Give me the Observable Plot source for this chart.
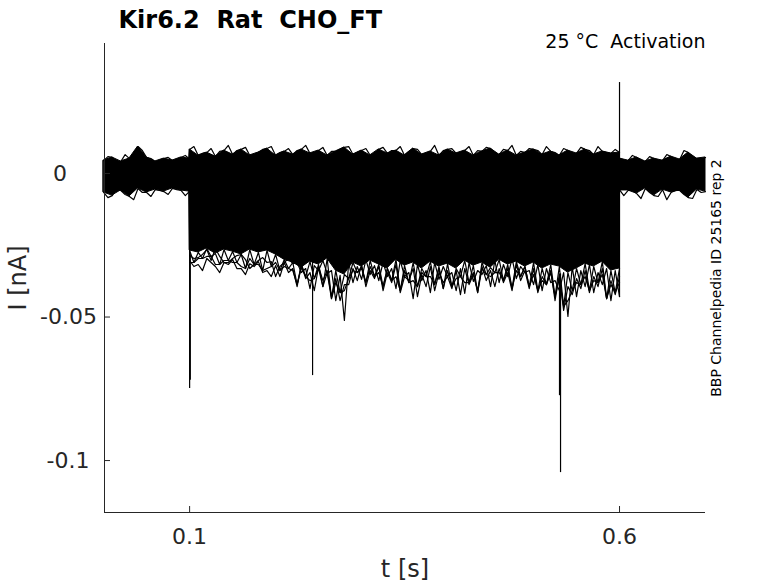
<!DOCTYPE html>
<html><head><meta charset="utf-8">
<script src="https://cdn.jsdelivr.net/npm/d3@7"></script>
<script src="https://cdn.jsdelivr.net/npm/@observablehq/plot@0.6"></script>
<style>html,body{margin:0;padding:0;background:#fff} svg{display:block}</style>
</head><body><div id="chart"></div>
<script>
// ---- axes / labels ----
const titleText = "Kir6.2  Rat  CHO_FT";
const conditionText = "25 °C  Activation";
const sideText = "BBP Channelpedia ID 25165 rep 2";
const xLabel = "t [s]";
const yLabel = "I [nA]";
const xDomain = [0.001, 0.7];
const yDomain = [-0.1181, 0.0453];
const xTicks = [0.1, 0.6];
const xTickLabels = ["0.1", "0.6"];
const yTicks = [0, -0.05, -0.1];
const yTickLabels = ["0", "-0.05", "-0.1"];

// ---- sample times (s) ----
const tPre = [0, 0.01, 0.02, 0.03, 0.04, 0.05, 0.06, 0.07, 0.08, 0.09, 0.0995];
const tPreHalf = [0.005, 0.015, 0.025, 0.035, 0.045, 0.055, 0.065, 0.075, 0.085, 0.095];
const tAct = [0.10,0.11,0.12,0.13,0.14,0.15,0.16,0.17,0.18,0.19,
              0.20,0.21,0.22,0.23,0.24,0.25,0.26,0.27,0.28,0.29,
              0.30,0.31,0.32,0.33,0.34,0.35,0.36,0.37,0.38,0.39,
              0.40,0.41,0.42,0.43,0.44,0.45,0.46,0.47,0.48,0.49,
              0.50,0.51,0.52,0.53,0.54,0.55,0.56,0.57,0.58,0.59,0.60];
const tHalf = [0.105,0.115,0.125,0.135,0.145,0.155,0.165,0.175,0.185,0.195,
               0.205,0.215,0.225,0.235,0.245,0.255,0.265,0.275,0.285,0.295,
               0.305,0.315,0.325,0.335,0.345,0.355,0.365,0.375,0.385,0.395,
               0.405,0.415,0.425,0.435,0.445,0.455,0.465,0.475,0.485,0.495,
               0.505,0.515,0.525,0.535,0.545,0.555,0.565,0.575,0.585,0.595];
const tPost = [0.6005, 0.61, 0.62, 0.63, 0.64, 0.65, 0.66, 0.67, 0.68, 0.69, 0.70];
const tPostHalf = [0.605, 0.615, 0.625, 0.635, 0.645, 0.655, 0.665, 0.675, 0.685, 0.695];

// ---- upper edge of the sweep bundle (nA) ----
const topPre = [0.0045,0.0056,0.0042,0.0052,0.0094,0.0056,0.0042,0.0052,0.0045,0.0056,0.0052];
const topPreHalf = [0.0059,0.0038,0.0066,0.0045,0.0080,0.0052,0.0038,0.0056,0.0045,0.0063];
const topAct = [0.0084,0.0063,0.0073,0.0059,0.0080,0.0066,0.0084,0.0063,0.0073,0.0087,
                0.0063,0.0077,0.0066,0.0084,0.0070,0.0080,0.0063,0.0077,0.0091,0.0066,
                0.0080,0.0063,0.0084,0.0070,0.0080,0.0063,0.0087,0.0066,0.0077,0.0063,
                0.0084,0.0070,0.0080,0.0063,0.0077,0.0087,0.0066,0.0080,0.0063,0.0073,
                0.0084,0.0066,0.0077,0.0063,0.0080,0.0070,0.0084,0.0066,0.0077,0.0070,0.0073];
const topHalf = [0.0094,0.0070,0.0087,0.0077,0.0098,0.0080,0.0091,0.0066,0.0084,0.0094,
                 0.0073,0.0087,0.0080,0.0098,0.0070,0.0091,0.0077,0.0084,0.0094,0.0073,
                 0.0087,0.0066,0.0091,0.0080,0.0094,0.0077,0.0084,0.0070,0.0098,0.0080,
                 0.0087,0.0073,0.0094,0.0080,0.0091,0.0070,0.0084,0.0098,0.0077,0.0087,
                 0.0080,0.0094,0.0073,0.0087,0.0066,0.0091,0.0080,0.0094,0.0073,0.0084];
const topPost = [0.0052,0.0045,0.0056,0.0042,0.0052,0.0045,0.0059,0.0049,0.0073,0.0052,0.0056];
const topPostHalf = [0.0038,0.0063,0.0045,0.0059,0.0038,0.0066,0.0042,0.0080,0.0056,0.0049];

// ---- lower edge of the dense core (nA) ----
const corePre = [-0.0066,-0.0077,-0.0059,-0.0080,-0.0052,-0.0066,-0.0056,-0.0063,-0.0052,-0.0059,-0.0063];
const corePreHalf = [-0.0084,-0.0052,-0.0073,-0.0091,-0.0066,-0.0080,-0.0059,-0.0073,-0.0056,-0.0077];
const coreAct = [-0.0268,-0.0275,-0.0261,-0.0279,-0.0265,-0.0272,-0.0282,-0.0265,-0.0275,-0.0268,
                 -0.0282,-0.0300,-0.0310,-0.0328,-0.0307,-0.0317,-0.0296,-0.0338,-0.0352,-0.0310,
                 -0.0324,-0.0303,-0.0317,-0.0331,-0.0300,-0.0321,-0.0310,-0.0331,-0.0307,-0.0324,
                 -0.0314,-0.0331,-0.0303,-0.0321,-0.0310,-0.0328,-0.0300,-0.0317,-0.0307,-0.0324,
                 -0.0310,-0.0331,-0.0317,-0.0324,-0.0345,-0.0331,-0.0314,-0.0324,-0.0307,-0.0338,-0.0331];
const corePost = [-0.0059,-0.0059,-0.0070,-0.0052,-0.0077,-0.0056,-0.0066,-0.0059,-0.0084,-0.0056,-0.0063];
const corePostHalf = [-0.0077,-0.0059,-0.0087,-0.0066,-0.0080,-0.0091,-0.0059,-0.0073,-0.0087,-0.0066];

// ---- lowest sweeps (nA) ----
const lowEdge = [-0.0286,-0.0293,-0.0265,-0.0261,-0.0310,-0.0296,-0.0282,-0.0331,-0.0303,-0.0310,
                 -0.0359,-0.0310,-0.0314,-0.0345,-0.0401,-0.0338,-0.0348,-0.0443,-0.0512,-0.0380,
                 -0.0369,-0.0352,-0.0373,-0.0359,-0.0401,-0.0359,-0.0436,-0.0373,-0.0415,-0.0369,
                 -0.0359,-0.0408,-0.0418,-0.0376,-0.0352,-0.0394,-0.0380,-0.0359,-0.0366,-0.0345,
                 -0.0387,-0.0408,-0.0380,-0.0408,-0.0498,-0.0429,-0.0394,-0.0415,-0.0387,-0.0443,-0.0429];
const lowMid = [-0.0296,-0.0282,-0.0303,-0.0289,-0.0310,-0.0286,-0.0300,-0.0317,-0.0293,-0.0307,
                -0.0324,-0.0296,-0.0310,-0.0331,-0.0321,-0.0303,-0.0338,-0.0355,-0.0310,-0.0324,
                -0.0300,-0.0321,-0.0310,-0.0331,-0.0303,-0.0345,-0.0317,-0.0338,-0.0310,-0.0324,
                -0.0345,-0.0331,-0.0310,-0.0338,-0.0321,-0.0303,-0.0317,-0.0296,-0.0324,-0.0338,
                -0.0317,-0.0331,-0.0373,-0.0345,-0.0324,-0.0338,-0.0317,-0.0345,-0.0331,-0.0338];
const midB = [-0.0310,-0.0296,-0.0289,-0.0317,-0.0303,-0.0310,-0.0324,-0.0296,-0.0317,-0.0331,
              -0.0310,-0.0324,-0.0338,-0.0317,-0.0373,-0.0331,-0.0345,-0.0380,-0.0408,-0.0338,
              -0.0331,-0.0324,-0.0345,-0.0331,-0.0359,-0.0338,-0.0373,-0.0345,-0.0359,-0.0331,
              -0.0338,-0.0366,-0.0380,-0.0345,-0.0331,-0.0359,-0.0345,-0.0331,-0.0338,-0.0324,
              -0.0352,-0.0373,-0.0345,-0.0366,-0.0443,-0.0380,-0.0359,-0.0373,-0.0352,-0.0387,-0.0380];
const lowB = [-0.0310,-0.0296,-0.0289,-0.0317,-0.0303,-0.0310,-0.0331,-0.0317,-0.0338,-0.0324,
              -0.0338,-0.0331,-0.0387,-0.0359,-0.0366,-0.0394,-0.0436,-0.0415,-0.0366,-0.0345,
              -0.0380,-0.0359,-0.0394,-0.0373,-0.0408,-0.0380,-0.0394,-0.0359,-0.0387,-0.0401,
              -0.0394,-0.0359,-0.0380,-0.0415,-0.0352,-0.0345,-0.0373,-0.0401,-0.0359,-0.0394,
              -0.0408,-0.0387,-0.0429,-0.0463,-0.0408,-0.0387,-0.0408,-0.0380,-0.0436,-0.0415];
const midC = [-0.0303,-0.0317,-0.0296,-0.0324,-0.0310,-0.0300,-0.0331,-0.0314,-0.0307,-0.0338,
              -0.0321,-0.0310,-0.0331,-0.0317,-0.0345,-0.0324,-0.0338,-0.0366,-0.0387,-0.0331,
              -0.0317,-0.0338,-0.0324,-0.0345,-0.0317,-0.0359,-0.0331,-0.0352,-0.0324,-0.0345,
              -0.0359,-0.0338,-0.0331,-0.0352,-0.0324,-0.0338,-0.0331,-0.0345,-0.0317,-0.0338,
              -0.0331,-0.0359,-0.0338,-0.0352,-0.0394,-0.0366,-0.0338,-0.0359,-0.0331,-0.0373,-0.0359];
const lowC = [-0.0324,-0.0338,-0.0310,-0.0345,-0.0317,-0.0331,-0.0352,-0.0324,-0.0345,-0.0359,
              -0.0359,-0.0345,-0.0394,-0.0366,-0.0408,-0.0373,-0.0429,-0.0443,-0.0387,-0.0373,
              -0.0394,-0.0366,-0.0408,-0.0380,-0.0415,-0.0373,-0.0429,-0.0394,-0.0408,-0.0380,
              -0.0401,-0.0422,-0.0387,-0.0408,-0.0373,-0.0394,-0.0380,-0.0408,-0.0373,-0.0401,
              -0.0415,-0.0387,-0.0443,-0.0477,-0.0422,-0.0401,-0.0415,-0.0394,-0.0436,-0.0422];

// ---- transient spikes (nA) ----
const spikeT      = [0.1,     0.1008,  0.2430,  0.5302,  0.5314,  0.6];
const spikeTop    = [0.0084, -0.0280, -0.0300, -0.0350, -0.0350,  0.0317];
const spikeBottom = [-0.0749,-0.0720, -0.0704, -0.0774, -0.1042, -0.0432];

// ---- build tables ----
const envelope = [
  ...tPre.map((t, i) => ({t, hi: topPre[i], lo: corePre[i]})),
  ...tAct.map((t, i) => ({t, hi: topAct[i], lo: coreAct[i]})),
  ...tPost.map((t, i) => ({t, hi: topPost[i], lo: corePost[i]}))
];
const zig = (tA, a, tB, b) => tA.flatMap((t, i) => i < tB.length
  ? [{t, I: a[i]}, {t: tB[i], I: b[i]}] : [{t, I: a[i]}]);
const traces = [
  zig(tAct, lowEdge, tHalf, lowMid),
  zig(tAct, midB, tHalf, lowB),
  zig(tAct, midC, tHalf, lowC),
  zig(tAct, coreAct, tHalf, lowB),
  zig(tAct, topAct, tHalf, topHalf),
  zig(tPre, topPre, tPreHalf, topPreHalf),
  zig(tPre, corePre, tPreHalf, corePreHalf),
  zig(tPost, topPost, tPostHalf, topPostHalf),
  zig(tPost, corePost, tPostHalf, corePostHalf)
];
const spikes = spikeT.map((t, i) => ({t, y1: spikeBottom[i], y2: spikeTop[i]}));

const axisColor = "#262626";
const yLabelDx = [-37.5, -7.5, -15];

const chart = Plot.plot({
  width: 778, height: 583,
  marginLeft: 104, marginRight: 73, marginTop: 43, marginBottom: 71,
  x: {domain: xDomain, axis: null},
  y: {domain: yDomain, axis: null},
  style: {fontFamily: "DejaVu Sans", background: "white", overflow: "visible"},
  marks: [
    Plot.areaY(envelope, {x: "t", y1: "lo", y2: "hi", fill: "black", stroke: "black", strokeWidth: 1, curve: "linear"}),
    ...traces.map(tr => Plot.line(tr, {x: "t", y: "I", stroke: "black", strokeWidth: 1.2})),
    Plot.ruleX(spikes, {x: "t", y1: "y1", y2: "y2", stroke: "black", strokeWidth: 1.2}),
    // axes
    Plot.ruleX([xDomain[0]], {stroke: axisColor}),
    Plot.ruleY([yDomain[0]], {stroke: axisColor}),
    Plot.tickY(yTicks, {y: d => d, insetRight: 595, stroke: axisColor}),
    Plot.tickX(xTicks, {x: d => d, insetTop: 463, stroke: axisColor}),
    ...yTicks.map((v, i) => Plot.text([v], {y: d => d, frameAnchor: "left", text: () => yTickLabels[i],
      textAnchor: "end", lineAnchor: "middle", dx: yLabelDx[i], fontSize: 22, fill: axisColor})),
    Plot.text(xTicks, {x: d => d, frameAnchor: "bottom", text: (d, i) => xTickLabels[i],
      textAnchor: "middle", lineAnchor: "bottom", dy: 31, fontSize: 22, fill: axisColor}),
    Plot.text([xLabel], {frameAnchor: "bottom", text: d => d, textAnchor: "middle", lineAnchor: "bottom", dy: 64, fontSize: 24, fill: axisColor}),
    Plot.text([yLabel], {frameAnchor: "left", text: d => d, rotate: -90, textAnchor: "middle", lineAnchor: "bottom", dx: -79, fontSize: 24, fill: axisColor}),
    Plot.text([titleText], {frameAnchor: "top-left", text: d => d, textAnchor: "start", lineAnchor: "bottom",
      dx: 14, dy: -16, fontSize: 24, fontWeight: "bold", fill: "black"}),
    Plot.text([conditionText], {frameAnchor: "top-right", text: d => d, textAnchor: "end", lineAnchor: "bottom",
      dx: 0, dy: 4, fontSize: 19, fill: "black"}),
    Plot.text([sideText], {frameAnchor: "right", text: d => d, rotate: -90, textAnchor: "middle", lineAnchor: "bottom",
      dx: 15, fontSize: 14, fill: "black"})
  ]
});
document.getElementById("chart").appendChild(chart);
</script>
</body></html>
